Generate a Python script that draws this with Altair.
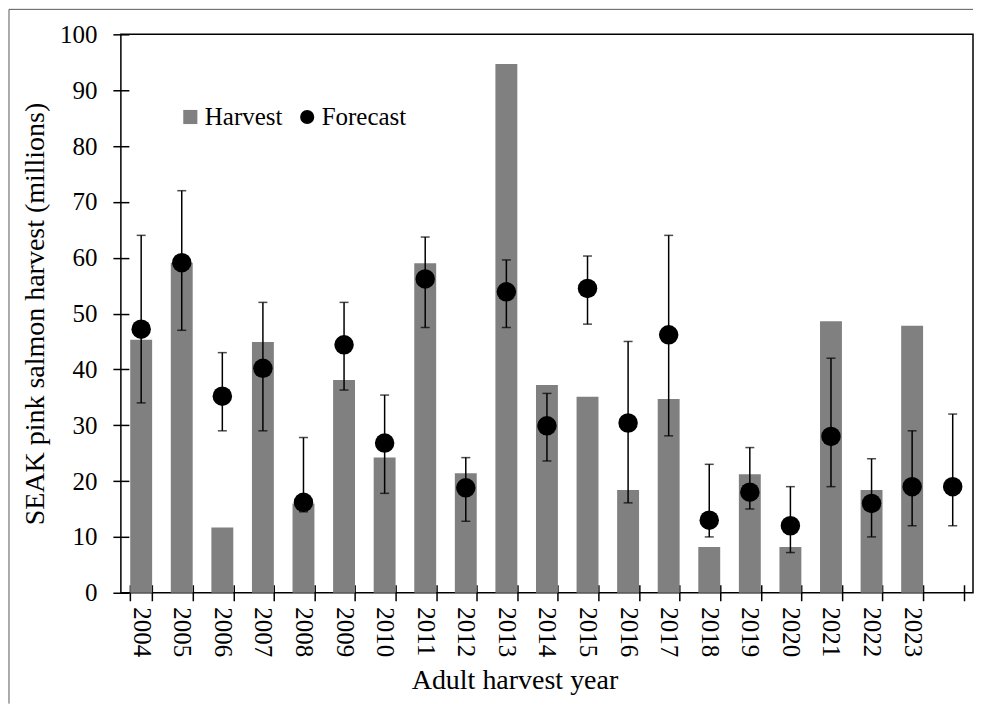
import altair as alt
import pandas as pd

years = ["2004", "2005", "2006", "2007", "2008", "2009", "2010", "2011", "2012", "2013",
         "2014", "2015", "2016", "2017", "2018", "2019", "2020", "2021", "2022", "2023", "2024"]
harvest_years = years[:20]
harvest = [45.3, 59.1, 11.7, 44.9, 16.0, 38.1, 24.2, 59.0, 21.4, 94.7,
           37.2, 35.1, 18.4, 34.7, 8.2, 21.2, 8.2, 48.6, 18.4, 47.8]
forecast = [47.2, 59.1, 35.2, 40.2, 16.2, 44.4, 26.8, 56.2, 18.8, 53.9,
            29.9, 54.5, 30.4, 46.2, 13.0, 18.0, 12.0, 28.0, 16.0, 19.0, 19.0]
low = [34.0, 47.0, 29.0, 29.0, 14.5, 36.3, 17.8, 47.5, 12.8, 47.5,
       23.6, 48.1, 16.1, 28.1, 10.0, 15.0, 7.2, 19.0, 10.0, 12.0, 12.0]
high = [64.0, 72.0, 43.0, 52.0, 27.8, 52.0, 35.4, 63.7, 24.2, 59.6,
        35.7, 60.3, 45.0, 64.0, 23.0, 26.0, 19.0, 42.0, 24.0, 29.0, 32.0]

hdf = pd.DataFrame({"year": harvest_years, "value": harvest, "series": "Harvest"})
fdf = pd.DataFrame({"year": years, "value": forecast, "low": low, "high": high, "series": "Forecast"})
one = pd.DataFrame({"a": [0]})

W, H = 853, 559
FONT = "Liberation Serif"

xscale = alt.Scale(domain=years, paddingInner=0.46, paddingOuter=0.23)
yscale = alt.Scale(domain=[0, 100], nice=False)
cscale = alt.Scale(domain=["Harvest", "Forecast"], range=["#808080", "#000000"])
sscale = alt.Scale(domain=["Harvest", "Forecast"], range=["square", "circle"])

xaxis = alt.Axis(title="Adult harvest year", labelAngle=90, labelAlign="left", labelBaseline="middle",
                 labelFont=FONT, labelFontSize=25, labelColor="black", labelPadding=6,
                 tickBand="extent", tickSize=16, tickWidth=1.5, tickColor="black", offset=-8,
                 domain=False, grid=False, titleFont=FONT, titleFontSize=28, titleFontWeight="normal",
                 titleColor="black", titlePadding=10, titleX=394,
                 labelExpr="datum.label == '2024' ? '' : datum.label")
yaxis = alt.Axis(title="SEAK pink salmon harvest (millions)", values=list(range(0, 101, 10)),
                 labelFont=FONT, labelFontSize=25, labelColor="black", labelPadding=16,
                 tickSize=16, tickWidth=1.5, tickColor="black", offset=-8,
                 domain=False, grid=False, titleFont=FONT, titleFontSize=28, titleFontWeight="normal",
                 titleColor="black", titlePadding=10)

legend = alt.Legend(title=None, orient="none", legendX=57, legendY=70, direction="horizontal",
                    labelFont=FONT, labelFontSize=25, labelColor="black", labelOffset=2, columnPadding=12,
                    symbolSize=200, symbolStrokeWidth=0, padding=0)

bars = alt.Chart(hdf).mark_bar(color="#808080").encode(
    x=alt.X("year:N", scale=xscale, axis=xaxis),
    y=alt.Y("value:Q", scale=yscale, axis=yaxis),
    color=alt.Color("series:N", scale=cscale, legend=legend),
)

err = alt.Chart(fdf).mark_rule(color="black", strokeWidth=1.5).encode(
    x=alt.X("year:N", scale=xscale),
    y=alt.Y("low:Q", scale=yscale),
    y2="high:Q",
)
cap_lo = alt.Chart(fdf).mark_tick(color="black", thickness=1.5, size=9).encode(
    x=alt.X("year:N", scale=xscale),
    y=alt.Y("low:Q", scale=yscale),
)
cap_hi = alt.Chart(fdf).mark_tick(color="black", thickness=1.5, size=9).encode(
    x=alt.X("year:N", scale=xscale),
    y=alt.Y("high:Q", scale=yscale),
)
pts = alt.Chart(fdf).mark_point(filled=True, size=380, opacity=1).encode(
    x=alt.X("year:N", scale=xscale),
    y=alt.Y("value:Q", scale=yscale),
    color=alt.Color("series:N", scale=cscale, legend=legend),
    shape=alt.Shape("series:N", scale=sscale, legend=legend),
)

border_top = alt.Chart(one).mark_rule(color="#595959", strokeWidth=1).encode(
    x=alt.value(-112), x2=alt.value(W), y=alt.value(-25))
border_left = alt.Chart(one).mark_rule(color="#595959", strokeWidth=1).encode(
    x=alt.value(-112), y=alt.value(-25), y2=alt.value(670))

chart = alt.layer(border_top, border_left, bars, err, cap_lo, cap_hi, pts).properties(
    width=W, height=H, padding=0
).configure(font=FONT).configure_view(stroke="black", strokeWidth=1.5)

chart.save("out.html", embed_options={"renderer": "svg", "actions": False})
